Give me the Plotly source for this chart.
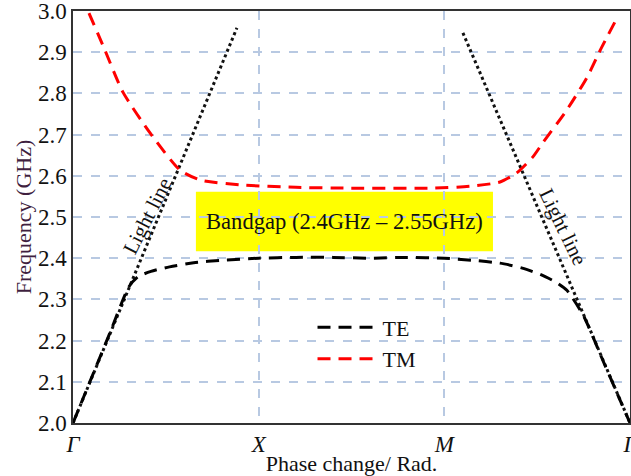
import plotly.graph_objects as go

# ---------------- data ----------------
te_x = [0.0, 0.1, 0.2, 0.3, 0.35, 0.42, 0.52, 0.65, 0.8, 1.0, 1.2, 1.4, 1.6, 1.8,
        2.0, 2.15, 2.3, 2.42, 2.52, 2.6, 2.66, 2.75, 2.85, 2.95, 3.0]
te_y = [2.0, 2.11, 2.22, 2.33, 2.355, 2.368, 2.379, 2.389, 2.395, 2.40, 2.402, 2.402,
        2.40, 2.402, 2.40, 2.395, 2.388, 2.376, 2.36, 2.342, 2.322, 2.26, 2.156, 2.052, 2.0]

tm_x = [0.086, 0.172, 0.269, 0.415, 0.576, 0.684, 0.9, 1.2, 1.49, 1.94, 2.15,
        2.30, 2.39, 2.477, 2.53, 2.66, 2.77, 2.84, 2.93]
tm_y = [2.995, 2.905, 2.803, 2.704, 2.614, 2.59, 2.578, 2.572, 2.57, 2.57, 2.575,
        2.585, 2.607, 2.646, 2.68, 2.76, 2.84, 2.905, 2.983]

light_left_x = [0.0, 0.883]
light_left_y = [2.0, 2.959]
light_right_x = [2.10, 3.0]
light_right_y = [2.947, 2.0]

x_tick_vals = [0, 1, 2, 3]
x_tick_text = ["Γ", "X", "M", "Γ"]
y_tick_vals = [2.0, 2.1, 2.2, 2.3, 2.4, 2.5, 2.6, 2.7, 2.8, 2.9, 3.0]

bandgap_text = "Bandgap (2.4GHz – 2.55GHz)"
bandgap_x0, bandgap_x1 = 0.662, 2.262
bandgap_y0, bandgap_y1 = 2.417, 2.561

FONT = "Liberation Serif"
GRID = "#b8c9e2"

fig = go.Figure()

fig.add_trace(go.Scatter(x=light_left_x, y=light_left_y, mode="lines",
                         line=dict(color="#111111", width=3, dash="3px,3px"),
                         showlegend=False, hoverinfo="skip"))
fig.add_trace(go.Scatter(x=light_right_x, y=light_right_y, mode="lines",
                         line=dict(color="#111111", width=3, dash="3px,3px"),
                         showlegend=False, hoverinfo="skip"))
fig.add_trace(go.Scatter(x=te_x, y=te_y, mode="lines", name="TE",
                         line=dict(color="#000000", width=3, dash="13px,8px",
                                   shape="spline", smoothing=0.6)))
fig.add_trace(go.Scatter(x=tm_x, y=tm_y, mode="lines", name="TM",
                         line=dict(color="#ff0000", width=3, dash="13px,8px",
                                   shape="spline", smoothing=0.6)))

fig.add_shape(type="rect", xref="x", yref="y",
              x0=bandgap_x0, x1=bandgap_x1, y0=bandgap_y0, y1=bandgap_y1,
              fillcolor="#ffff00", line=dict(width=0), layer="below")
fig.add_annotation(x=(bandgap_x0 + bandgap_x1) / 2, y=(bandgap_y0 + bandgap_y1) / 2,
                   xref="x", yref="y", text=bandgap_text, showarrow=False,
                   font=dict(family=FONT, size=22.6, color="#111111"))

fig.add_annotation(x=0.40, y=2.503, xref="x", yref="y", text="Light line",
                   showarrow=False, textangle=-63,
                   font=dict(family=FONT, size=21, color="#111111"))
fig.add_annotation(x=2.64, y=2.476, xref="x", yref="y", text="Light line",
                   showarrow=False, textangle=64,
                   font=dict(family=FONT, size=21, color="#111111"))

fig.update_layout(
    width=631, height=476,
    margin=dict(l=73, r=1, t=11, b=53),
    paper_bgcolor="white", plot_bgcolor="white",
    font=dict(family=FONT, size=22, color="#111111"),
    legend=dict(x=0.43, y=0.283, xanchor="left", yanchor="top",
                bgcolor="rgba(0,0,0,0)", font=dict(family=FONT, size=22),
                tracegroupgap=0, itemwidth=60),
)
fig.update_xaxes(range=[0, 3], tickvals=x_tick_vals,
                 ticktext=["<i>%s</i>" % t for t in x_tick_text],
                 ticklabeloverflow="allow", automargin=False,
                 showgrid=True, gridcolor=GRID, griddash="dash", gridwidth=1.5,
                 showline=True, linecolor="#333333", linewidth=1.5, mirror=True,
                 ticks="", zeroline=False,
                 tickfont=dict(family=FONT, size=23, color="#111111"),
                 title=dict(text="Phase change/ Rad.", standoff=0,
                            font=dict(family=FONT, size=22, color="#111111")))
fig.update_yaxes(range=[2, 3], tickvals=y_tick_vals, tickformat=".1f",
                 ticklabeloverflow="allow", automargin=False,
                 showgrid=True, gridcolor=GRID, griddash="dash", gridwidth=1.5,
                 showline=True, linecolor="#333333", linewidth=1.5, mirror=True,
                 ticks="", zeroline=False,
                 tickfont=dict(family=FONT, size=23, color="#111111"),
                 title=dict(text="Frequency (GHz)", standoff=0,
                            font=dict(family=FONT, size=22, color="#3f1f3f")))

fig.write_html("out.html")
